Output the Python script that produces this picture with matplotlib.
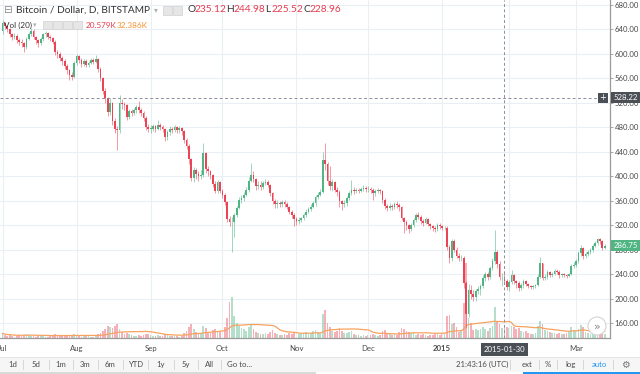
import numpy as np
import pandas as pd
import matplotlib
matplotlib.use("Agg")
import matplotlib.pyplot as plt
from matplotlib.patches import Rectangle, Ellipse
from matplotlib.transforms import blended_transform_factory as blend

# BTC/USD daily bars on Bitstamp, 1 Jul 2014 .. 13 Mar 2015
# (no bars for 5-7 Jan 2015, the exchange was offline)
opens = [637, 650, 645, 640, 632, 628, 630, 622, 620, 618, 611, 625, 633, 638, 628, 622, 618, 624, 632, 634, 628, 626, 620, 603, 600, 594, 588, 580, 573, 565, 563,
         585, 596, 590, 584, 588, 582, 586, 590, 587, 592, 575, 560, 540, 528, 505, 520, 490, 478, 476, 520, 518, 516, 497, 506, 503, 508, 513, 508, 503, 495, 480,
         478, 478, 482, 478, 484, 480, 477, 464, 472, 478, 476, 480, 475, 479, 474, 460, 450, 428, 398, 410, 403, 400, 402, 438, 412, 408, 402, 388, 376, 390,
         376, 370, 358, 330, 325, 326, 336, 348, 362, 364, 370, 378, 392, 402, 396, 384, 386, 383, 389, 391, 386, 372, 360, 354, 357, 354, 358, 355, 350, 342, 336,
         330, 327, 329, 331, 336, 342, 346, 350, 356, 366, 370, 374, 426, 420, 392, 384, 390, 378, 374, 360, 354, 357, 364, 372, 378, 376, 378, 376, 379, 381,
         379, 380, 378, 372, 376, 378, 376, 362, 352, 348, 352, 349, 354, 353, 350, 332, 326, 320, 313, 320, 329, 337, 334, 327, 324, 330, 322, 318, 315, 313, 320,
         318, 315, 316, 285, 266, 294, 280, 270, 266, 267, 225, 175, 214, 208, 202, 212, 216, 220, 234, 240, 236, 250, 262, 277, 256, 235, 235.12, 228.96,
         219, 227, 238, 228, 226, 217, 222, 229, 224, 221, 219, 220, 222, 236, 258, 234, 236, 243, 238, 241, 245, 244, 238, 240, 239, 237, 240, 253,
         255, 261, 274, 283, 270, 273, 276, 279, 286, 291, 297, 294, 283]
highs = [655, 652, 647, 642, 634, 635, 632, 626, 624, 620, 628, 636, 642, 640, 630, 625, 627, 635, 638, 636, 631, 628, 622, 606, 603, 597, 591, 583, 576, 570, 588,
         600, 598, 593, 592, 591, 589, 593, 594, 598, 594, 578, 563, 545, 530, 528, 522, 495, 482, 533, 526, 522, 518, 510, 510, 512, 516, 523, 512, 506, 498, 486,
         484, 486, 484, 492, 487, 484, 479, 476, 482, 481, 484, 483, 482, 481, 476, 463, 452, 430, 415, 413, 408, 410, 454, 440, 416, 410, 404, 392, 394, 392,
         380, 372, 360, 335, 333, 340, 352, 366, 370, 374, 382, 399, 421, 408, 398, 392, 392, 393, 395, 394, 388, 375, 363, 362, 360, 362, 361, 358, 352, 345, 340,
         334, 333, 334, 340, 346, 350, 354, 360, 370, 374, 380, 440, 454, 424, 416, 396, 392, 382, 378, 362, 362, 368, 376, 394, 382, 381, 381, 383, 385, 384,
         384, 383, 381, 379, 381, 380, 378, 364, 355, 356, 354, 358, 360, 356, 352, 334, 328, 322, 324, 332, 340, 342, 336, 330, 334, 332, 324, 320, 318, 324, 324,
         321, 319, 318, 288, 298, 297, 284, 274, 272, 270, 228, 224, 222, 214, 216, 220, 224, 238, 244, 243, 254, 266, 312, 280, 262, 242, 244.98, 232,
         231, 246, 240, 230, 228, 225, 232, 231, 226, 223, 223, 224, 240, 268, 258, 240, 246, 245, 244, 248, 248, 246, 242, 242, 241, 242, 256, 260,
         264, 278, 288, 284, 277, 279, 282, 289, 294, 299, 299, 296, 289]
lows = [632, 640, 636, 628, 622, 624, 618, 615, 612, 604, 608, 622, 630, 624, 617, 612, 615, 621, 628, 624, 621, 616, 598, 594, 588, 582, 575, 568, 557, 558, 560,
        582, 585, 579, 580, 578, 579, 583, 583, 585, 570, 555, 535, 520, 498, 500, 484, 470, 443, 470, 510, 508, 492, 494, 498, 500, 504, 503, 499, 490, 476, 472,
        470, 474, 473, 475, 476, 472, 458, 460, 468, 470, 472, 470, 471, 468, 455, 444, 420, 392, 390, 396, 392, 396, 399, 405, 400, 396, 383, 372, 373, 372,
        364, 353, 325, 318, 276, 300, 333, 346, 356, 360, 367, 375, 390, 390, 378, 380, 378, 380, 385, 382, 367, 355, 348, 348, 349, 350, 350, 346, 338, 332, 318,
        320, 322, 325, 328, 334, 340, 343, 348, 352, 363, 367, 372, 410, 386, 378, 376, 374, 368, 350, 345, 349, 352, 362, 370, 371, 372, 372, 374, 376, 375,
        374, 373, 361, 368, 372, 371, 357, 347, 343, 345, 345, 347, 348, 344, 328, 307, 312, 308, 310, 317, 326, 330, 322, 319, 322, 318, 314, 311, 309, 311, 314,
        312, 312, 280, 258, 262, 276, 266, 262, 262, 218, 152, 170, 200, 196, 196, 207, 206, 218, 228, 230, 232, 246, 257, 250, 230, 221, 225.52, 214,
        212, 224, 224, 218, 212, 214, 218, 220, 218, 216, 216, 218, 220, 234, 230, 230, 232, 235, 236, 238, 240, 234, 235, 236, 234, 235, 238, 250,
        252, 258, 270, 265, 266, 270, 273, 276, 284, 288, 289, 280, 281]
closes = [650, 645, 640, 632, 628, 630, 622, 620, 618, 611, 625, 633, 638, 628, 622, 618, 624, 632, 634, 628, 626, 620, 603, 600, 594, 588, 580, 573, 565, 563, 585,
          596, 590, 584, 588, 582, 586, 590, 587, 592, 575, 560, 540, 528, 505, 520, 490, 478, 476, 520, 518, 516, 497, 506, 503, 508, 513, 508, 503, 495, 480, 478,
          478, 482, 478, 484, 480, 477, 464, 472, 478, 476, 480, 475, 479, 474, 460, 450, 428, 398, 410, 403, 400, 402, 438, 412, 408, 402, 388, 376, 390, 376,
          370, 358, 330, 325, 326, 336, 348, 362, 364, 370, 378, 392, 402, 396, 384, 386, 383, 389, 391, 386, 372, 360, 354, 357, 354, 358, 355, 350, 342, 336, 330,
          327, 329, 331, 336, 342, 346, 350, 356, 366, 370, 374, 426, 420, 392, 384, 390, 378, 374, 360, 354, 357, 364, 372, 378, 376, 378, 376, 379, 381, 379,
          380, 378, 372, 376, 378, 376, 362, 352, 348, 352, 349, 354, 353, 350, 332, 326, 320, 313, 320, 329, 337, 334, 327, 324, 330, 322, 318, 315, 313, 320, 318,
          315, 316, 285, 266, 294, 280, 270, 266, 267, 225, 175, 214, 208, 202, 212, 216, 220, 234, 240, 236, 250, 262, 277, 256, 235, 235.12, 228.96, 219,
          227, 238, 228, 226, 217, 222, 229, 224, 221, 219, 220, 222, 236, 258, 234, 236, 243, 238, 241, 245, 244, 238, 240, 239, 237, 240, 253, 255,
          261, 274, 283, 270, 273, 276, 279, 286, 291, 297, 294, 283, 286.75]
# volume in thousands of BTC
volume_k = [9, 7, 5, 6, 4, 3, 5, 6, 4, 7, 8, 6, 5, 4, 3, 5, 4, 5, 3, 3, 4, 5, 8, 6, 5, 4, 4, 5, 7, 6, 9,
            6, 4, 3, 4, 5, 4, 3, 3, 5, 8, 11, 14, 18, 25, 22, 20, 24, 28, 18, 12, 9, 10, 8, 6, 5, 5, 6, 5, 7, 9, 8,
            6, 5, 4, 7, 5, 4, 9, 7, 5, 4, 5, 4, 3, 4, 10, 14, 22, 28, 18, 12, 10, 9, 25, 20, 12, 10, 16, 18, 14, 15,
            16, 22, 40, 73, 83, 45, 30, 25, 20, 18, 15, 22, 26, 18, 12, 10, 9, 8, 10, 8, 12, 16, 10, 8, 7, 6, 8, 7, 10, 9, 12,
            10, 8, 9, 10, 12, 11, 10, 14, 16, 12, 10, 48, 57, 30, 22, 15, 12, 14, 20, 14, 10, 11, 12, 15, 9, 7, 6, 5, 6, 5,
            6, 7, 9, 7, 5, 6, 14, 16, 10, 8, 7, 8, 6, 12, 20, 18, 14, 12, 10, 12, 7, 8, 6, 8, 6, 5, 6, 7, 9, 8, 7,
            8, 10, 45, 47, 28, 30, 22, 12, 14, 70, 150, 40, 30, 17, 18, 16, 18, 22, 18, 15, 20, 24, 63, 32, 28, 20, 20.579, 22,
            20, 25, 22, 18, 20, 15, 12, 14, 10, 9, 8, 10, 24, 34, 28, 16, 14, 12, 10, 10, 9, 11, 8, 9, 10, 12, 22, 16,
            14, 19, 26, 22, 12, 10, 9, 10, 14, 16, 12, 13, 8]

month_pos = [0, 31, 62, 92, 123, 153, 184, 212, 240]
month_lbl = ['Jul', 'Aug', 'Sep', 'Oct', 'Nov', 'Dec', '2015', '', 'Mar']
price_ticks = list(range(160, 681, 40))
cross_bar = 210
cross_date = '2015-01-30'
cross_price = 528.22
last_price = 286.75

UP = '#4fb583'
DOWN = '#ea4456'
GRID = '#eaeff5'
TXT = '#4a4a4a'
DARK = '#4b4f56'

plt.rcParams['font.family'] = ['Lato', 'DejaVu Sans']

o = np.array(opens, float)
h = np.array(highs, float)
l = np.array(lows, float)
c = np.array(closes, float)
v = np.array(volume_k, float)
x = np.arange(len(c))
col = np.where(c >= o, UP, DOWN)

W, H = 640, 374
fig = plt.figure(figsize=(W / 100, H / 100), dpi=100)
fx = lambda p: p / W
fy = lambda p: 1 - p / H
rect = [0, fy(338), fx(610), 338 / H]

# volume + grid underneath, candles on top
axv = fig.add_axes(rect, zorder=1)
ax = fig.add_axes(rect, zorder=2, sharex=axv)
ax.patch.set_visible(False)

ax.set_xlim(-1.05, 254.2)
ax.set_ylim(135.6, 688.2)
axv.set_ylim(0, 676)

ax.set_xticks(month_pos, month_lbl)
axv.grid(axis='x', color=GRID, lw=0.8)
hl = blend(axv.transAxes, ax.transData)
for p in price_ticks:
    axv.plot([0, 1], [p, p], transform=hl, color=GRID, lw=0.8, zorder=0)
axv.tick_params(left=False, labelleft=False, bottom=False, labelbottom=False)
for s in axv.spines.values():
    s.set_visible(False)

axv.bar(x, v, width=0.72, color=col, alpha=0.42, lw=0)
ma = pd.Series(v).rolling(20, min_periods=1).mean()
axv.plot(x, ma, color='#f7a25e', lw=0.9)

ax.vlines(x, l, h, colors=col, lw=0.7, alpha=0.55)
body = np.maximum(np.abs(c - o), 0.9)
ax.bar(x, body, bottom=np.minimum(o, c), width=0.72, color=col, lw=0)

ax.axvline(cross_bar, color='#8a8f99', lw=0.7, ls=(0, (3, 2.5)))
ax.axhline(cross_price, color='#8a8f99', lw=0.7, ls=(0, (3, 2.5)))

for s in ['left', 'top']:
    ax.spines[s].set_visible(False)
for s in ['right', 'bottom']:
    ax.spines[s].set_color('#9a9a9a')
    ax.spines[s].set_linewidth(0.9)
ax.yaxis.tick_right()
ax.set_yticks(price_ticks, [f'{p:.2f}' for p in price_ticks])
ax.tick_params(axis='y', length=2, width=0.6, color='#9a9a9a', pad=1.5,
               labelsize=5.6, labelcolor=TXT)
ax.tick_params(axis='x', length=0, pad=5, labelsize=5.6, labelcolor=TXT)
for t in ax.get_xticklabels():
    if t.get_text() == '2015':
        t.set_fontweight('bold')


def yfig(p):
    return fig.transFigure.inverted().transform(ax.transData.transform((0, p)))[1]


# price labels on the right scale
for price, fc in [(cross_price, DARK), (last_price, UP)]:
    yc = yfig(price)
    fig.add_artist(Rectangle((fx(611), yc - 5.5 / H), fx(29), 11 / H, transform=fig.transFigure,
                             fc=fc, ec='none', zorder=5))
    fig.text(fx(625.5), yc, f'{price:.2f}', ha='center', va='center', color='white',
             fontsize=5.6, zorder=6)
yc = yfig(cross_price)
fig.add_artist(Rectangle((fx(598), yc - 5 / H), fx(10), 10 / H, transform=fig.transFigure,
                         fc=DARK, ec='none', zorder=5))
fig.text(fx(603), yc, '+', ha='center', va='center', color='white', fontsize=6, zorder=6,
         family='DejaVu Sans')

# date of the crosshair
fig.text(fx(504.5), fy(349.5), cross_date, ha='center', va='center', color='white', fontsize=5.6,
         zorder=6, bbox=dict(boxstyle='square,pad=0.35', fc=DARK, ec='none'))

# scroll button
fig.add_artist(Ellipse((fx(597), fy(326)), 18 / W, 18 / H, transform=fig.transFigure,
                       fc='white', ec='#d4d4d4', lw=0.8, zorder=5))
fig.text(fx(597.5), fy(326.5), '»', ha='center', va='center', color='#8a8a8a', fontsize=8,
         zorder=6, family='DejaVu Sans')

# legend lines at the top
fig.text(fx(3.5), fy(10), '⊟', fontsize=7.5, color='#8a8a8a', va='center', family='DejaVu Sans')
fig.text(fx(16), fy(10), 'Bitcoin / Dollar, D, BITSTAMP', fontsize=7.3, color='#333333', va='center')
fig.text(fx(154), fy(10), '▾', fontsize=5.5, color='#b0b0b0', va='center', family='DejaVu Sans')
for px in (163, 173):
    fig.add_artist(Rectangle((fx(px), fy(14.5)), fx(9), 9 / H, transform=fig.transFigure,
                             fc='#e6e6e6', ec='#d0d0d0', lw=0.5, zorder=5))
ohlc_txt = [('O', 187, 195, '235.12'), ('H', 226, 234, '244.98'),
            ('L', 265, 271.5, '225.52'), ('C', 303, 310, '228.96')]
for k, px1, px2, val in ohlc_txt:
    fig.text(fx(px1), fy(10), k, fontsize=7.3, color='#333333', va='center')
    fig.text(fx(px2), fy(10), val, fontsize=7.3, color='#e93c50', va='center')

fig.text(fx(4), fy(25), 'Vol (20)', fontsize=5.9, color='#333333', va='center')
fig.text(fx(33), fy(25), '▾', fontsize=5, color='#b0b0b0', va='center', family='DejaVu Sans')
for px in (43, 53, 63, 73):
    fig.add_artist(Rectangle((fx(px), fy(29)), fx(8.5), 8.5 / H, transform=fig.transFigure,
                             fc='#e6e6e6', ec='#d0d0d0', lw=0.5, zorder=5))
fig.text(fx(86), fy(25), '20.579K', fontsize=5.9, color='#e93c50', va='center')
fig.text(fx(117), fy(25), '32.386K', fontsize=5.9, color='#f5922f', va='center')

# bottom toolbar
fig.add_artist(Rectangle((0, fy(372)), 1, 15 / H, transform=fig.transFigure,
                         fc='#f6f6f6', ec='none', zorder=0))
fig.add_artist(plt.Line2D([0, 1], [fy(357), fy(357)], transform=fig.transFigure,
                          color='#e2e2e2', lw=0.6, zorder=1))
fig.add_artist(Rectangle((0, 0), fx(316), 2 / H, transform=fig.transFigure,
                         fc='#d9d9d9', ec='none', zorder=1))
fig.add_artist(Rectangle((fx(523), 0), fx(117), 2 / H, transform=fig.transFigure,
                         fc='#2196f3', ec='none', zorder=1))
left_btns = [('1d', 12.5), ('5d', 36), ('1m', 60.5), ('3m', 85), ('6m', 110), ('YTD', 135.5),
             ('1y', 161), ('5y', 185.5), ('All', 209), ('Go to...', 240)]
for lbl, px in left_btns:
    fig.text(fx(px), fy(364.5), lbl, ha='center', va='center', fontsize=5.6, color=TXT)
right_btns = [('21:43:16 (UTC)', 482, TXT), ('ext', 527.5, TXT), ('%', 548, TXT),
              ('log', 570.5, TXT), ('auto', 599, '#2196f3')]
for lbl, px, cc in right_btns:
    fig.text(fx(px), fy(364.5), lbl, ha='center', va='center', fontsize=5.6, color=cc)
fig.text(fx(625), fy(364.5), '⚙', ha='center', va='center', fontsize=7, color='#777777',
         family='DejaVu Sans')
for px in (23, 48.5, 73, 98, 123, 148, 174, 198, 221, 510, 539, 557, 583, 613):
    fig.add_artist(plt.Line2D([fx(px), fx(px)], [fy(360), fy(369)], transform=fig.transFigure,
                              color='#d2d2d2', lw=0.6, zorder=1))

fig.savefig('out.png', dpi=100)
